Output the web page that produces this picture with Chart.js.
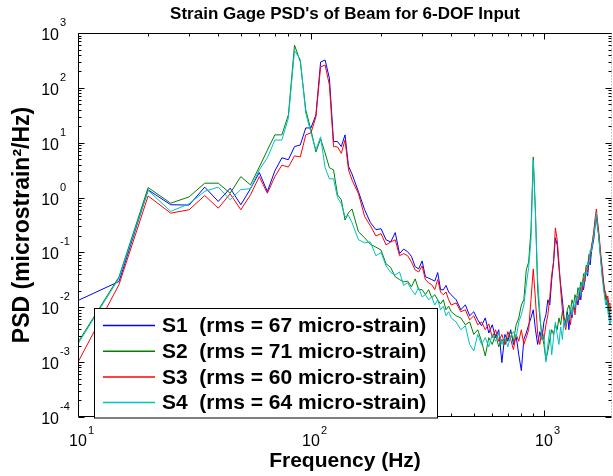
<!DOCTYPE html>
<html><head><meta charset="utf-8">
<script src="https://cdn.jsdelivr.net/npm/chart.js@4.4.1/dist/chart.umd.min.js"></script>
<style>html,body{margin:0;padding:0;background:#fff;}canvas{display:block;}</style>
</head><body>
<canvas id="c" width="613" height="476"></canvas>
<script>
// ---- data ----
const freqHz = [
  10,15,20,25,30,35,40,45,50,55,
  60,65,70,75,80,85,90,95,100,105,
  110,115,120,125,130,135,140,145,150,
  160,170,180,190,200,210,220,230,240,250,
  260,270,280,290,300,310,320,330,340,350,
  360,370,380,390,400,
  420,440,460,480,500,520,540,560,580,600,
  620,640,660,680,700,720,740,760,780,800,
  820,840,860,880,900,920,940,960,980,1000,
  1020,1040,1060,1080,1100,1120,1140,1160,1180,1200,
  1220,1240,1260,1280,1300,1320,1340,1360,1380,1400,
  1420,1440,1460,1480,1500,1520,1540,1560,1580,1600,
  1620,1640,1660,1680,1700,1720,1740,1760,1780,1800,
  1820,1840,1860,1880,1900,1920,1940
];
const s1Psd = [
  0.0133,0.0295,1.38,0.74,0.73,1.55,0.85,1.48,0.74,1.45,
  2.85,1.29,3.06,5.3,4.9,8.5,9.1,18.6,18.6,32,
  296,322,150,10.5,10.5,8.5,13.9,3.7,2.7,
  1.27,0.60,0.35,0.26,0.27,0.17,0.155,0.23,0.095,0.115,
  0.103,0.085,0.055,0.05,0.07,0.036,0.034,0.032,0.03,0.043,
  0.021,0.0208,0.025,0.019,0.0169,
  0.0137,0.009,0.0111,0.007,0.0083,0.0059,0.0046,0.0064,0.0034,0.0048,
  0.0028,0.0039,0.00098,0.0032,0.0024,0.0039,0.0021,0.003,0.00136,0.0007,
  0.0026,0.0034,0.0048,0.0064,0.009,0.0039,0.0021,0.0036,0.0026,0.0054,
  0.0073,0.0137,0.011,0.0317,0.067,0.185,0.137,0.053,0.0257,0.0137,
  0.0064,0.0048,0.0083,0.0039,0.009,0.0064,0.011,0.009,0.0149,0.011,
  0.019,0.0137,0.0257,0.021,0.034,0.044,0.037,0.067,0.059,0.103,
  0.137,0.185,0.32,0.43,0.28,0.21,0.12,0.067,0.044,0.029,
  0.018,0.017,0.011,0.0137,0.0083,0.0064,0.0059
];
const s2Psd = [
  0.0023,0.036,1.52,0.79,1.03,1.83,1.83,1.2,2.41,1.7,
  3.6,7.3,13.9,13.9,32,600,300,39.5,17,6.8,
  11.7,6.5,3.5,3.2,1.12,0.91,0.39,0.53,0.62,
  0.237,0.185,0.14,0.125,0.11,0.062,0.053,0.036,0.032,0.029,
  0.030,0.0236,0.033,0.021,0.021,0.0171,0.021,0.0149,0.017,0.0137,
  0.0115,0.0137,0.009,0.0105,0.0083,
  0.007,0.0064,0.0048,0.0054,0.0032,0.0039,0.0024,0.0013,0.0028,0.0021,
  0.0032,0.0019,0.0026,0.0021,0.0028,0.0036,0.0024,0.0048,0.0064,0.011,
  0.0137,0.048,0.067,0.258,5.5,0.53,0.021,0.0064,0.0032,0.0021,
  0.0011,0.0016,0.0026,0.0039,0.0032,0.0048,0.0039,0.0064,0.0048,0.0083,
  0.0064,0.0054,0.009,0.011,0.0083,0.0137,0.011,0.017,0.0137,0.0228,
  0.019,0.029,0.025,0.041,0.034,0.059,0.053,0.092,0.08,0.13,
  0.17,0.237,0.36,0.49,0.33,0.185,0.111,0.067,0.039,0.027,
  0.019,0.0137,0.016,0.009,0.0115,0.0073,0.0064
];
const s3Psd = [
  0.001,0.026,1.07,0.52,0.60,1.09,0.64,1.17,0.60,1.12,
  2.41,1.2,2.4,3.9,3.6,5.75,5.5,13.9,15.1,29.5,
  240,261,113,8.5,8.4,6.4,11.2,3.2,2.1,
  1.17,0.45,0.305,0.2,0.22,0.137,0.155,0.17,0.087,0.095,
  0.087,0.067,0.048,0.044,0.057,0.0317,0.028,0.0257,0.021,0.032,
  0.019,0.0169,0.019,0.0137,0.011,
  0.012,0.0083,0.009,0.0059,0.007,0.0048,0.0054,0.0039,0.005,0.0028,
  0.0039,0.0024,0.0032,0.0021,0.0036,0.0026,0.0017,0.0032,0.0024,0.0039,
  0.0021,0.0028,0.0039,0.0137,0.05,0.0137,0.0032,0.0021,0.0039,0.0026,
  0.0048,0.0073,0.0155,0.039,0.067,0.28,0.17,0.067,0.021,0.009,
  0.0054,0.0039,0.0059,0.0073,0.0048,0.009,0.0105,0.0073,0.0137,0.016,
  0.0137,0.0228,0.019,0.034,0.029,0.053,0.044,0.08,0.092,0.12,
  0.17,0.26,0.43,0.62,0.36,0.237,0.137,0.08,0.053,0.032,
  0.021,0.019,0.0137,0.016,0.011,0.012,0.0083
];
const s4Psd = [
  0.00216,0.034,1.35,0.56,0.77,1.3,1.55,0.91,1.4,1.45,
  3.2,5.3,11.2,11.2,28,480,330,34.4,15.1,7.4,
  12.8,3.5,2.2,2.2,1.0,0.77,0.45,0.47,0.35,
  0.17,0.15,0.155,0.087,0.1,0.057,0.043,0.039,0.044,0.025,
  0.028,0.021,0.017,0.0228,0.0155,0.017,0.0137,0.0155,0.011,0.0137,
  0.009,0.0105,0.007,0.0083,0.0064,
  0.0054,0.0039,0.0046,0.0021,0.0016,0.0032,0.0021,0.0028,0.0019,0.0032,
  0.0024,0.0034,0.0021,0.0028,0.0019,0.003,0.0036,0.0028,0.0054,0.0073,
  0.011,0.0257,0.053,0.17,4.9,0.49,0.032,0.0083,0.0026,0.0032,
  0.001,0.0021,0.0039,0.00136,0.0028,0.0054,0.0032,0.0021,0.0044,0.0026,
  0.0059,0.0044,0.0073,0.0059,0.0098,0.0073,0.012,0.0098,0.016,0.0137,
  0.0228,0.0169,0.029,0.0257,0.044,0.039,0.067,0.059,0.111,0.103,
  0.155,0.21,0.32,0.53,0.28,0.2,0.103,0.059,0.034,0.0228,
  0.016,0.011,0.0137,0.0083,0.0064,0.0048,0.0059
];
const seriesNames = ['S1','S2','S3','S4'];
const seriesRms = [67, 71, 60, 64];
const xMajorTicks = [10, 100, 1000];
const xTickExponents = ['1','2','3'];
const yMajorTicks = [1e-4,1e-3,1e-2,1e-1,1e0,1e1,1e2,1e3];
const yTickExponents = ['-4','-3','-2','-1','0','1','2','3'];
const titleText = "Strain Gage PSD's of Beam for 6-DOF Input";
const xTitle = 'Frequency (Hz)';
const yTitle = 'PSD (microstrain\u00B2/Hz)';

// ---- styles ----
const colors = ['#0000ff','#008000','#ff0000','#00bfbf'];
const FONT = '"Liberation Sans", Arial, Helvetica, sans-serif';
const X_MIN = 10, X_MAX = 1960, Y_MIN = 1e-4, Y_MAX = 1e3;

const allSeries = [s1Psd, s2Psd, s3Psd, s4Psd];
const datasets = allSeries.map((vals, i) => ({
  label: seriesNames[i] + '  (rms = ' + seriesRms[i] + ' micro-strain)',
  data: freqHz.map((f, k) => ({x: f, y: vals[k]})),
  borderColor: colors[i],
  backgroundColor: colors[i],
  borderWidth: 1,
  pointRadius: 0,
  tension: 0,
  fill: false,
  order: 4 - i
}));

function minorValues(decades, max) {
  const out = [];
  decades.forEach(d => { for (let k = 2; k <= 9; k++) { const v = d * k; if (v < max) out.push(v); } });
  return out;
}

const framePlugin = {
  id: 'frame',
  afterDatasetsDraw(chart) {
    const {ctx, chartArea: a, scales: {x, y}} = chart;
    ctx.save();
    const L = a.left + 0.5, R = a.right - 0.5, T = a.top + 0.5, B = a.bottom - 0.5;
    ctx.strokeStyle = '#000'; ctx.lineWidth = 1;
    ctx.beginPath();
    ctx.moveTo(R, T); ctx.lineTo(L, T); ctx.lineTo(L, B); ctx.lineTo(R, B);
    ctx.stroke();
    ctx.strokeStyle = '#999';
    ctx.setLineDash([1, 2]);
    ctx.beginPath(); ctx.moveTo(R, T); ctx.lineTo(R, B); ctx.stroke();
    ctx.setLineDash([]);
    ctx.strokeStyle = '#000';
    const xMinor = minorValues([10, 100, 1000], X_MAX);
    const drawX = (v, len) => {
      const px = Math.round(x.getPixelForValue(v)) + 0.5;
      ctx.beginPath();
      ctx.moveTo(px, T); ctx.lineTo(px, T + len);
      ctx.moveTo(px, B); ctx.lineTo(px, B - len);
      ctx.stroke();
    };
    xMinor.forEach(v => drawX(v, 3));
    xMajorTicks.forEach(v => drawX(v, 6));
    const yMinor = minorValues([1e-4,1e-3,1e-2,1e-1,1,10,100], Y_MAX);
    const drawY = (v, len) => {
      const py = Math.round(y.getPixelForValue(v)) + 0.5;
      ctx.beginPath();
      ctx.moveTo(L, py); ctx.lineTo(L + len, py);
      ctx.moveTo(R, py); ctx.lineTo(R - len, py);
      ctx.stroke();
    };
    yMinor.forEach(v => drawY(v, 3));
    yMajorTicks.forEach(v => drawY(v, 6));

    ctx.fillStyle = '#000';
    xMajorTicks.forEach((v, i) => {
      const px = x.getPixelForValue(v);
      ctx.font = '16px ' + FONT;
      ctx.textAlign = 'center'; ctx.textBaseline = 'alphabetic';
      ctx.fillText('10', px, a.bottom + 29);
      ctx.font = '11px ' + FONT;
      ctx.textAlign = 'left';
      ctx.fillText(xTickExponents[i], px + 10, a.bottom + 17);
    });
    yMajorTicks.forEach((v, i) => {
      const py = y.getPixelForValue(v);
      ctx.font = '16px ' + FONT;
      ctx.textAlign = 'right'; ctx.textBaseline = 'alphabetic';
      ctx.fillText('10', 59, py + 7);
      ctx.font = '11px ' + FONT;
      ctx.textAlign = 'left';
      ctx.fillText(yTickExponents[i], 60, py - 7);
    });

    ctx.font = 'bold 17px ' + FONT;
    ctx.textAlign = 'center'; ctx.textBaseline = 'alphabetic';
    ctx.fillText(titleText, (a.left + a.right) / 2, 19);
    ctx.font = 'bold 21px ' + FONT;
    ctx.fillText(xTitle, (a.left + a.right) / 2, 467);
    ctx.save();
    ctx.translate(29, (a.top + a.bottom) / 2);
    ctx.rotate(-Math.PI / 2);
    ctx.font = 'bold 23px ' + FONT;
    ctx.fillText(yTitle, 0, 0);
    ctx.restore();

    const bx = 94.5, by = 308.5, bw = 343, bh = a.bottom + 1 - 308.5;
    ctx.fillStyle = '#fff';
    ctx.fillRect(bx, by, bw, bh);
    ctx.strokeStyle = '#000'; ctx.lineWidth = 1;
    ctx.strokeRect(bx, by, bw, bh);
    chart.data.datasets.forEach((ds, i) => {
      const ry = by + 17 + i * 25.7;
      ctx.strokeStyle = ds.borderColor; ctx.lineWidth = 1.5;
      ctx.beginPath(); ctx.moveTo(103, ry); ctx.lineTo(155, ry); ctx.stroke();
      ctx.fillStyle = '#000';
      ctx.font = 'bold 21px ' + FONT;
      ctx.textAlign = 'left'; ctx.textBaseline = 'middle';
      ctx.fillText(ds.label, 162, ry + 1);
    });
    ctx.restore();
  }
};

new Chart(document.getElementById('c'), {
  type: 'line',
  data: { datasets },
  options: {
    responsive: false,
    animation: false,
    devicePixelRatio: 1,
    layout: { padding: { left: 78, right: 1, top: 33, bottom: 59 } },
    plugins: { legend: { display: false }, tooltip: { enabled: false }, title: { display: false } },
    scales: {
      x: { type: 'logarithmic', min: X_MIN, max: X_MAX, display: false },
      y: { type: 'logarithmic', min: Y_MIN, max: Y_MAX, display: false }
    }
  },
  plugins: [framePlugin]
});
</script>
</body></html>
